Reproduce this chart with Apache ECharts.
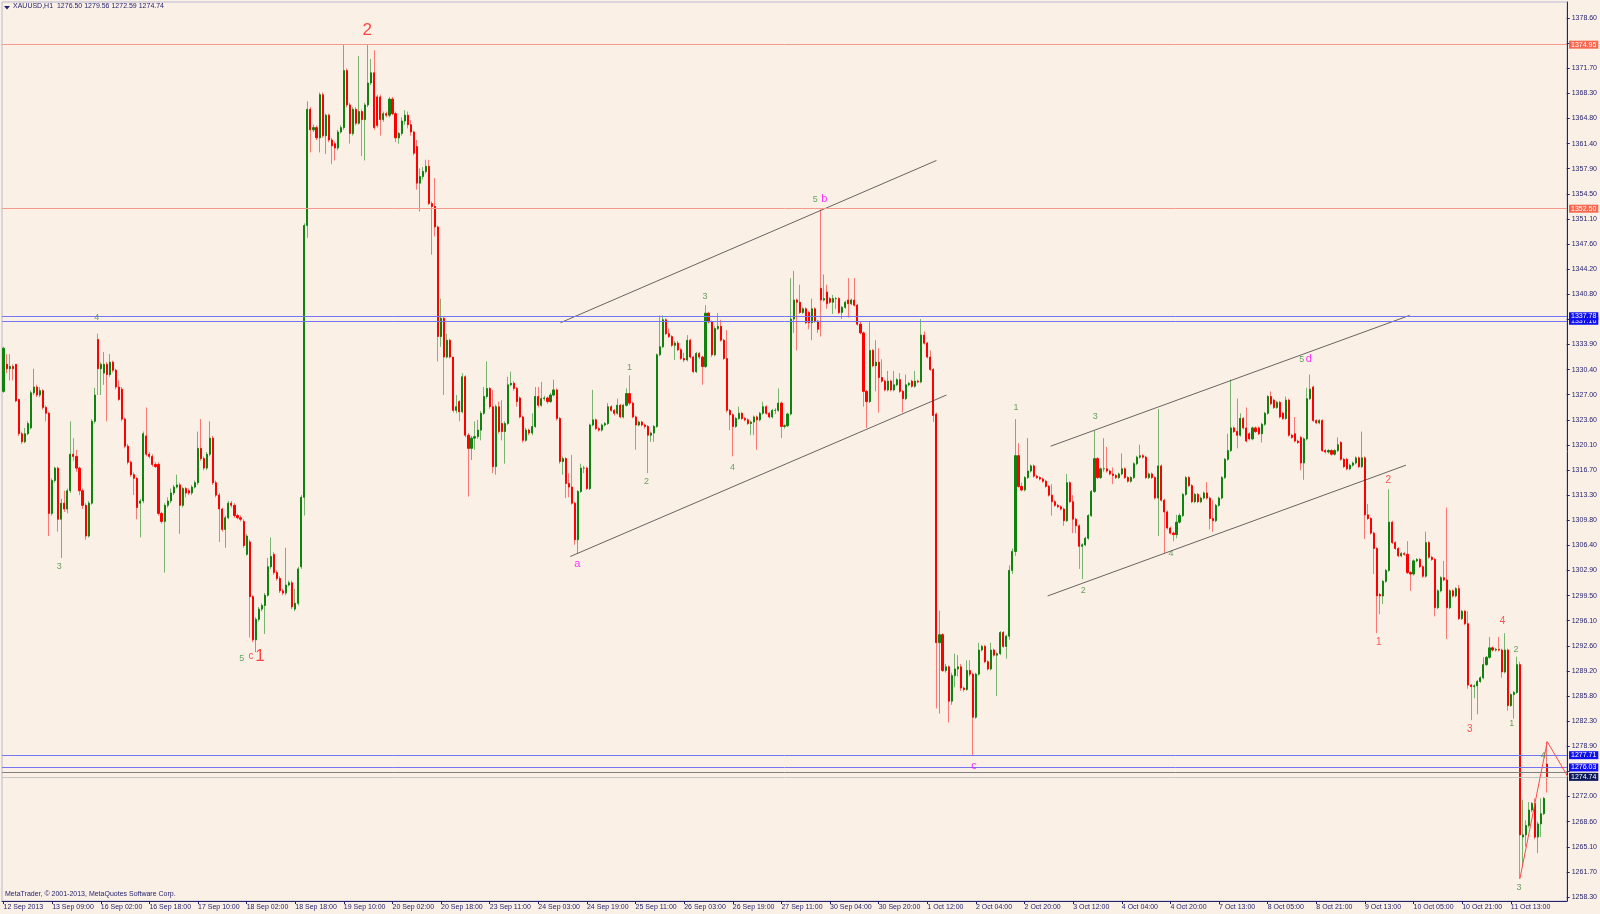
<!DOCTYPE html>
<html><head><meta charset="utf-8">
<script src="https://cdn.jsdelivr.net/npm/echarts/dist/echarts.min.js"></script>
<style>html,body{margin:0;padding:0;background:#fbf0e6;}#chart{width:1600px;height:914px;}</style>
</head><body><div id="chart"></div>
<script>
// ---------------- DATA ----------------
const symbolName = 'XAUUSD,H1';
const lastBarOHLC = ['1276.50', '1279.56', '1272.59', '1274.74'];
const copyright = 'MetaTrader, \u00a9 2001-2013, MetaQuotes Software Corp.';

const xTickLabels = ['12 Sep 2013','13 Sep 09:00','16 Sep 02:00','16 Sep 18:00','17 Sep 10:00','18 Sep 02:00','18 Sep 18:00','19 Sep 10:00','20 Sep 02:00','20 Sep 18:00','23 Sep 11:00','24 Sep 03:00','24 Sep 19:00','25 Sep 11:00','26 Sep 03:00','26 Sep 19:00','27 Sep 11:00','30 Sep 04:00','30 Sep 20:00','1 Oct 12:00','2 Oct 04:00','2 Oct 20:00','3 Oct 12:00','4 Oct 04:00','4 Oct 20:00','7 Oct 13:00','8 Oct 05:00','8 Oct 21:00','9 Oct 13:00','10 Oct 05:00','10 Oct 21:00','11 Oct 13:00'];

// price scale ticks, bottom to top ('' = tick hidden under a price label)
const yTickLabels = ['1258.30','1261.70','1265.10','1268.60','1272.00','','1278.90','1282.30','1285.80','1289.20','1292.60','1296.10','1299.50','1302.90','1306.40','1309.80','1313.30','1316.70','1320.10','1323.60','1327.00','1330.40','1333.90','','1340.80','1344.20','1347.60','1351.10','1354.50','1357.90','1361.40','1364.80','1368.30','1371.70','','1378.60'];

// hourly candles: [open, close, low, high]
const candles = [
[1327.5,1333.4,1327.3,1333.6],[1331.2,1330.6,1330.0,1332.6],[1330.6,1330.9,1329.0,1332.6],[1330.9,1330.6,1329.0,1331.2],[1331.2,1326.2,1326.0,1331.2],
[1326.4,1321.7,1321.4,1326.4],[1321.7,1320.6,1320.3,1322.0],[1320.6,1321.7,1320.4,1322.5],[1321.7,1323.1,1321.5,1323.4],[1322.5,1327.3,1322.3,1327.6],
[1327.3,1328.1,1327.0,1330.6],[1328.1,1327.0,1326.7,1328.4],[1327.0,1327.6,1326.7,1328.1],[1327.6,1325.3,1325.0,1327.8],[1325.3,1324.5,1323.4,1325.6],
[1324.5,1310.8,1307.7,1324.7],[1310.8,1315.3,1310.5,1315.6],[1315.3,1317.0,1315.0,1317.2],[1317.0,1310.0,1308.3,1317.2],[1310.0,1312.2,1304.7,1312.8],
[1312.2,1311.4,1311.0,1313.9],[1311.4,1313.9,1310.8,1314.2],[1313.9,1318.9,1313.6,1323.4],[1318.9,1318.6,1318.0,1321.1],[1318.6,1317.0,1316.5,1319.5],
[1317.0,1313.9,1313.3,1317.2],[1313.9,1311.9,1311.4,1314.2],[1311.9,1307.7,1307.2,1312.2],[1307.7,1312.2,1307.5,1312.5],[1312.2,1323.4,1312.0,1323.7],
[1323.4,1327.0,1323.1,1328.0],[1334.6,1330.6,1327.0,1335.4],[1330.6,1331.2,1327.0,1331.5],[1330.0,1331.2,1328.4,1332.9],[1331.2,1329.8,1323.4,1331.5],
[1329.8,1331.5,1329.5,1332.6],[1331.5,1330.4,1330.1,1331.7],[1330.4,1328.1,1327.8,1330.6],[1328.1,1326.4,1326.2,1329.0],[1327.8,1323.7,1323.4,1328.1],
[1323.7,1320.0,1319.7,1323.9],[1320.0,1317.8,1317.5,1320.3],[1317.8,1316.1,1315.8,1318.0],[1316.1,1315.6,1313.3,1316.4],[1315.6,1311.6,1310.0,1315.8],
[1312.2,1312.5,1307.5,1312.8],[1312.5,1321.7,1312.2,1322.0],[1321.4,1318.9,1318.6,1325.3],[1318.9,1318.6,1318.3,1319.2],[1318.6,1317.5,1317.2,1318.9],
[1317.5,1317.2,1317.0,1317.8],[1317.5,1310.8,1310.5,1317.8],[1310.8,1309.7,1309.4,1311.0],[1309.7,1311.9,1302.7,1312.2],[1311.9,1312.5,1311.6,1313.0],
[1312.5,1313.6,1312.2,1314.2],[1313.6,1314.4,1313.3,1314.7],[1314.4,1314.7,1314.2,1316.1],[1314.7,1311.9,1308.0,1315.0],[1311.9,1314.2,1311.6,1314.4],
[1314.2,1313.6,1313.0,1314.4],[1313.9,1313.6,1313.3,1314.2],[1313.6,1314.4,1313.3,1314.7],[1314.4,1315.0,1314.2,1315.3],[1315.0,1319.7,1314.7,1322.0],
[1319.7,1318.3,1318.0,1323.7],[1318.3,1317.0,1316.7,1318.6],[1317.0,1318.9,1316.7,1319.2],[1318.9,1321.1,1318.6,1323.4],[1321.1,1315.0,1314.7,1321.4],
[1315.0,1313.3,1313.0,1315.3],[1313.3,1311.4,1306.9,1313.6],[1311.4,1308.6,1308.3,1311.6],[1308.6,1310.2,1306.1,1310.5],[1310.2,1312.2,1310.0,1312.5],
[1312.2,1311.9,1311.6,1312.5],[1311.9,1310.5,1310.2,1312.2],[1310.5,1310.2,1310.0,1310.8],[1310.2,1310.0,1309.7,1310.5],[1309.7,1306.4,1306.1,1310.0],
[1305.2,1307.7,1305.0,1308.0],[1306.9,1299.4,1293.8,1307.2],[1299.4,1293.5,1293.2,1299.6],[1293.5,1296.3,1291.8,1296.6],[1296.3,1297.7,1296.0,1298.0],
[1297.7,1298.2,1297.4,1298.5],[1298.2,1299.6,1294.3,1299.9],[1299.6,1303.5,1299.4,1304.7],[1303.5,1304.9,1303.2,1307.5],[1305.2,1302.7,1302.4,1305.5],
[1302.7,1301.9,1301.6,1303.0],[1301.9,1300.2,1299.9,1302.2],[1300.2,1299.9,1299.6,1300.5],[1299.9,1301.0,1299.6,1306.1],[1301.0,1301.3,1300.8,1301.6],
[1301.3,1298.0,1297.7,1301.6],[1297.7,1298.5,1297.4,1300.5],[1298.5,1303.2,1298.2,1303.5],[1303.5,1313.0,1303.2,1313.3],[1313.0,1350.2,1310.5,1350.5],
[1350.2,1366.1,1348.5,1367.2],[1366.1,1363.3,1360.2,1366.4],[1363.3,1363.6,1363.0,1364.0],[1363.6,1362.2,1361.9,1363.9],[1362.2,1368.1,1360.2,1368.4],
[1368.1,1362.5,1362.2,1368.4],[1362.5,1365.3,1360.0,1365.5],[1365.3,1361.9,1361.6,1365.5],[1361.9,1361.1,1358.6,1362.2],[1361.4,1360.8,1359.1,1361.7],
[1360.8,1363.0,1360.5,1363.3],[1363.0,1363.6,1362.8,1363.9],[1363.6,1371.4,1363.3,1375.0],[1371.4,1366.7,1366.4,1371.7],[1366.7,1362.8,1361.4,1367.0],
[1362.8,1366.1,1362.5,1366.4],[1366.1,1364.2,1363.9,1366.4],[1364.2,1365.8,1364.0,1373.4],[1365.8,1364.7,1359.7,1366.1],[1364.7,1366.7,1359.1,1367.0],
[1366.7,1369.7,1366.4,1375.0],[1369.7,1371.1,1369.4,1373.0],[1371.1,1363.6,1363.3,1374.2],[1367.8,1363.9,1363.6,1368.1],[1367.8,1364.7,1362.5,1368.1],
[1364.7,1365.5,1364.4,1365.8],[1365.5,1365.3,1365.0,1365.8],[1365.3,1367.5,1365.0,1367.8],[1367.5,1365.5,1365.3,1367.8],[1365.5,1362.2,1361.6,1365.8],
[1362.2,1362.8,1361.4,1363.0],[1362.8,1364.5,1362.5,1365.0],[1364.5,1365.3,1364.0,1366.0],[1365.3,1364.0,1363.5,1365.8],[1364.0,1363.0,1362.5,1364.6],
[1363.0,1360.1,1359.8,1363.2],[1361.0,1356.0,1355.1,1361.9],[1356.0,1356.9,1352.1,1358.0],[1356.9,1357.6,1356.5,1358.2],[1357.6,1358.3,1357.3,1359.2],
[1358.3,1353.2,1353.0,1359.2],[1353.2,1352.8,1346.2,1353.5],[1352.8,1350.0,1348.7,1356.7],[1350.0,1335.0,1331.6,1350.2],[1335.0,1337.5,1333.6,1340.2],
[1337.5,1332.2,1327.0,1337.7],[1332.2,1334.5,1332.0,1335.4],[1334.5,1332.2,1332.0,1334.7],[1332.2,1324.9,1324.6,1330.0],[1324.9,1325.4,1324.5,1327.0],
[1326.1,1324.7,1323.4,1326.3],[1324.7,1329.5,1324.5,1330.0],[1329.5,1321.5,1321.2,1329.7],[1321.5,1319.7,1313.1,1321.8],[1319.7,1321.1,1318.1,1321.4],
[1321.1,1321.3,1319.5,1323.4],[1321.3,1322.2,1321.0,1323.6],[1322.2,1324.5,1320.8,1324.8],[1324.5,1326.8,1324.3,1328.1],[1326.8,1327.9,1326.5,1331.6],
[1327.9,1325.4,1325.1,1328.1],[1325.4,1317.2,1316.3,1327.7],[1317.2,1325.4,1316.1,1325.7],[1325.4,1322.0,1321.7,1326.1],[1323.1,1322.0,1320.8,1326.3],
[1322.0,1323.1,1317.6,1323.4],[1323.1,1328.4,1322.9,1329.5],[1328.4,1328.6,1328.2,1330.2],[1328.6,1327.9,1327.6,1328.9],[1327.9,1326.1,1325.4,1328.1],
[1326.6,1324.0,1323.8,1326.8],[1324.0,1320.8,1320.5,1324.2],[1320.8,1322.2,1320.6,1322.5],[1322.2,1321.8,1321.5,1322.4],[1321.8,1322.7,1321.5,1324.5],
[1322.7,1326.8,1322.5,1328.1],[1326.8,1325.6,1325.3,1328.1],[1325.6,1326.5,1325.4,1328.8],[1326.5,1326.6,1326.2,1326.9],[1326.6,1326.1,1325.8,1326.8],
[1326.1,1327.0,1325.9,1327.3],[1327.0,1327.7,1326.8,1329.1],[1327.7,1323.8,1323.5,1327.9],[1323.8,1317.9,1317.6,1324.0],[1317.9,1318.3,1316.1,1318.6],
[1318.3,1314.9,1312.9,1318.5],[1314.9,1314.4,1313.0,1316.3],[1314.4,1312.2,1312.0,1318.8],[1312.2,1307.2,1306.5,1312.4],[1307.2,1313.8,1305.3,1314.0],
[1313.8,1317.0,1313.6,1317.6],[1317.0,1317.0,1316.3,1317.3],[1317.0,1314.2,1314.0,1317.2],[1314.2,1322.9,1314.0,1323.1],[1322.9,1323.6,1322.7,1327.7],
[1323.6,1322.4,1322.2,1323.8],[1322.4,1322.2,1322.0,1322.6],[1322.2,1322.9,1322.0,1323.1],[1322.9,1323.1,1322.7,1323.3],[1323.1,1325.4,1322.9,1325.9],
[1325.4,1324.9,1324.7,1325.6],[1324.9,1324.5,1324.2,1325.1],[1324.5,1325.6,1324.3,1326.5],[1325.6,1324.0,1323.8,1325.8],[1324.0,1325.6,1323.8,1325.8],
[1325.6,1327.2,1325.4,1327.9],[1327.2,1325.9,1325.6,1329.7],[1325.9,1324.0,1323.8,1326.1],[1324.0,1322.9,1319.5,1324.2],[1322.9,1323.3,1322.7,1323.5],
[1323.3,1322.9,1322.7,1323.5],[1322.9,1322.7,1322.4,1323.1],[1322.7,1321.5,1316.3,1322.9],[1321.5,1321.8,1320.6,1322.0],[1321.8,1322.7,1320.6,1322.9],
[1322.7,1332.5,1322.5,1332.7],[1332.5,1333.6,1332.3,1337.9],[1333.6,1337.3,1333.4,1337.9],[1337.3,1335.4,1335.2,1337.5],[1335.4,1335.0,1334.8,1336.1],
[1335.0,1333.8,1333.6,1335.2],[1333.8,1334.1,1331.8,1334.4],[1334.1,1333.2,1333.0,1334.4],[1333.2,1332.0,1331.8,1333.4],[1332.0,1331.8,1331.5,1332.8],
[1331.8,1334.5,1331.6,1335.2],[1334.5,1332.2,1332.0,1334.7],[1332.2,1330.2,1330.0,1332.4],[1330.2,1332.7,1330.0,1332.9],[1332.7,1332.2,1331.9,1332.9],
[1332.2,1330.9,1328.4,1332.4],[1330.9,1338.2,1330.7,1339.3],[1338.2,1337.0,1336.8,1338.4],[1337.0,1332.5,1332.2,1337.2],[1332.5,1336.1,1332.3,1336.4],
[1336.1,1336.4,1335.9,1338.2],[1336.4,1334.5,1334.3,1337.3],[1334.5,1332.0,1331.8,1334.7],[1332.0,1324.9,1324.6,1335.9],[1324.9,1324.3,1322.2,1325.1],
[1324.3,1322.7,1318.6,1324.5],[1322.7,1323.8,1322.5,1324.0],[1323.8,1324.5,1323.6,1325.4],[1324.5,1323.8,1323.6,1324.7],[1323.8,1323.6,1323.4,1324.0],
[1323.6,1323.1,1322.9,1323.8],[1323.1,1323.3,1321.5,1323.5],[1323.3,1324.0,1321.5,1324.2],[1324.0,1323.6,1319.5,1324.2],[1323.6,1324.5,1323.4,1324.7],
[1324.5,1325.4,1324.3,1326.1],[1325.4,1324.5,1324.3,1325.6],[1324.5,1324.0,1323.8,1324.7],[1324.0,1324.9,1323.8,1325.1],[1324.9,1324.9,1324.4,1325.2],
[1324.9,1325.9,1324.7,1327.9],[1325.9,1322.7,1321.1,1326.1],[1322.7,1322.8,1322.4,1323.0],[1322.8,1324.4,1322.6,1324.6],[1324.4,1337.4,1324.2,1343.0],
[1337.4,1340.0,1335.5,1344.0],[1340.0,1339.7,1333.1,1340.2],[1339.7,1338.3,1338.1,1342.1],[1338.3,1338.8,1338.1,1339.0],[1338.8,1336.9,1336.7,1339.0],
[1338.3,1336.9,1336.0,1338.5],[1336.9,1338.8,1334.5,1340.2],[1338.8,1337.1,1336.9,1339.0],[1337.1,1336.0,1335.5,1337.3],[1341.6,1340.0,1335.0,1352.4],
[1340.0,1340.2,1339.8,1343.5],[1341.1,1339.5,1338.8,1342.1],[1340.2,1339.7,1339.5,1340.4],[1339.7,1340.2,1338.1,1340.7],[1340.2,1340.2,1338.8,1340.4],
[1340.2,1338.3,1338.1,1340.4],[1338.3,1339.0,1337.4,1339.2],[1339.0,1339.7,1338.8,1339.9],[1340.0,1339.5,1337.6,1343.0],[1339.5,1340.0,1339.3,1340.2],
[1340.0,1339.3,1339.1,1343.0],[1339.3,1336.7,1336.5,1339.5],[1336.7,1335.5,1335.3,1337.1],[1335.5,1327.5,1325.4,1335.7],[1327.5,1326.1,1322.5,1327.7],
[1326.1,1333.1,1325.9,1337.1],[1333.1,1331.0,1330.8,1333.3],[1331.0,1331.5,1327.5,1334.5],[1331.5,1329.4,1324.6,1333.4],[1329.4,1328.9,1328.7,1331.9],
[1328.9,1327.7,1327.5,1329.1],[1327.7,1328.9,1327.5,1330.3],[1328.9,1327.7,1327.5,1329.1],[1327.7,1328.4,1327.5,1330.3],[1328.4,1329.1,1328.2,1329.3],
[1329.1,1327.5,1327.3,1330.0],[1327.5,1326.5,1324.6,1327.7],[1326.5,1328.4,1326.3,1329.8],[1328.4,1328.6,1328.2,1328.8],[1328.9,1328.2,1328.0,1329.1],
[1328.2,1328.9,1328.0,1330.3],[1328.9,1328.8,1328.6,1329.1],[1328.8,1335.2,1328.6,1337.4],[1335.2,1334.1,1333.9,1335.7],[1334.1,1332.2,1332.0,1334.3],
[1332.2,1330.5,1330.3,1333.1],[1330.5,1324.2,1323.3,1330.7],[1324.4,1293.1,1284.1,1324.6],[1293.1,1294.2,1283.4,1297.5],[1294.2,1289.3,1289.1,1294.4],
[1289.3,1289.8,1289.0,1290.2],[1289.8,1285.1,1282.2,1290.0],[1285.1,1288.6,1284.6,1289.0],[1288.6,1289.5,1287.0,1291.6],[1289.5,1289.8,1288.5,1291.4],
[1289.8,1286.9,1286.5,1290.2],[1286.9,1286.7,1286.4,1287.1],[1286.7,1289.3,1286.5,1290.7],[1289.3,1288.8,1288.5,1290.7],[1288.8,1282.9,1277.7,1289.0],
[1282.9,1288.8,1282.7,1289.0],[1288.8,1292.1,1288.6,1293.1],[1292.1,1292.6,1291.9,1292.8],[1292.6,1290.5,1290.3,1292.8],[1290.5,1289.5,1289.3,1290.7],
[1289.5,1292.1,1289.3,1293.1],[1292.1,1291.4,1291.2,1292.3],[1291.4,1291.6,1285.8,1291.8],[1291.6,1294.5,1291.4,1294.7],[1294.5,1292.6,1292.4,1294.7],
[1292.6,1294.0,1290.9,1294.2],[1294.0,1303.0,1293.5,1303.7],[1303.0,1305.6,1302.5,1306.0],[1305.6,1318.7,1305.0,1323.7],[1318.7,1314.5,1314.3,1320.4],
[1314.5,1314.0,1313.8,1315.0],[1314.0,1315.7,1313.8,1315.9],[1315.7,1316.6,1315.5,1321.1],[1316.6,1317.3,1316.4,1317.5],[1317.3,1315.9,1315.7,1317.5],
[1315.9,1315.7,1315.5,1316.1],[1315.7,1315.5,1315.3,1315.9],[1315.5,1315.2,1315.0,1315.7],[1315.2,1314.5,1314.3,1315.4],[1314.5,1313.3,1313.1,1314.7],
[1313.3,1312.4,1310.5,1314.8],[1312.4,1311.9,1311.7,1312.6],[1311.9,1311.7,1311.5,1312.1],[1311.7,1311.4,1311.2,1311.9],[1311.4,1309.8,1309.1,1311.6],
[1309.8,1315.0,1309.6,1316.2],[1315.0,1312.4,1312.2,1315.2],[1312.4,1310.0,1308.1,1313.3],[1310.0,1309.1,1308.1,1310.2],[1309.1,1306.3,1303.2,1309.3],
[1306.3,1306.5,1301.8,1306.7],[1306.5,1307.4,1306.3,1307.6],[1307.4,1310.5,1307.2,1310.7],[1310.5,1313.8,1310.3,1314.0],[1313.8,1318.3,1313.6,1322.1],
[1318.3,1315.7,1315.5,1318.5],[1315.7,1316.9,1315.5,1317.1],[1316.9,1316.9,1316.5,1321.1],[1316.9,1316.6,1316.4,1319.9],[1316.6,1316.2,1316.0,1316.8],
[1316.2,1316.0,1314.8,1317.1],[1316.0,1315.7,1315.5,1316.2],[1315.7,1316.2,1315.5,1316.4],[1316.2,1316.9,1316.0,1319.0],[1316.9,1315.7,1315.5,1317.1],
[1315.7,1315.2,1315.0,1315.9],[1315.2,1315.7,1315.0,1315.9],[1315.7,1317.6,1315.5,1317.8],[1317.6,1318.5,1317.4,1318.7],[1318.5,1318.7,1318.3,1320.2],
[1318.7,1318.5,1318.3,1318.9],[1318.5,1315.7,1315.5,1318.7],[1315.7,1316.2,1315.5,1316.4],[1316.2,1315.7,1315.5,1316.4],[1315.7,1312.9,1312.7,1315.9],
[1312.9,1317.3,1307.7,1325.1],[1317.3,1312.6,1312.4,1317.5],[1312.6,1311.0,1305.3,1312.8],[1311.0,1308.8,1308.6,1311.2],[1308.8,1308.1,1307.9,1309.0],
[1308.1,1307.9,1307.0,1308.3],[1307.9,1309.6,1307.4,1310.6],[1309.6,1310.5,1309.4,1310.8],[1310.5,1313.4,1310.3,1313.6],[1313.4,1315.7,1313.2,1315.9],
[1315.7,1314.6,1314.4,1315.9],[1314.6,1312.4,1312.2,1314.8],[1312.4,1313.4,1312.2,1313.6],[1313.4,1312.4,1312.2,1313.6],[1312.4,1312.9,1312.2,1313.1],
[1312.9,1313.6,1312.7,1313.8],[1313.6,1312.9,1312.7,1315.1],[1312.9,1310.1,1308.6,1313.1],[1310.1,1309.8,1308.3,1312.6],[1309.8,1311.9,1309.6,1312.1],
[1311.9,1312.9,1311.7,1313.1],[1312.9,1315.7,1312.7,1315.9],[1315.7,1318.2,1315.5,1318.4],[1318.2,1319.4,1318.0,1321.7],[1319.4,1322.5,1319.2,1329.1],
[1322.5,1322.0,1321.8,1322.7],[1322.0,1321.5,1319.7,1326.5],[1321.5,1323.8,1321.3,1324.5],[1323.8,1322.5,1322.3,1324.0],[1322.5,1320.7,1320.5,1325.3],
[1321.7,1321.0,1320.8,1321.9],[1321.0,1322.5,1320.8,1322.7],[1322.5,1322.0,1321.8,1322.7],[1322.5,1321.7,1321.5,1322.7],[1321.7,1323.0,1320.5,1323.2],
[1323.0,1324.5,1322.8,1324.7],[1324.5,1326.8,1324.3,1327.0],[1326.8,1325.8,1325.6,1327.5],[1326.3,1325.3,1325.1,1326.5],[1325.3,1326.0,1325.1,1326.2],
[1326.0,1324.0,1323.8,1326.2],[1324.5,1323.8,1323.6,1324.7],[1323.8,1326.3,1323.6,1326.8],[1326.3,1321.5,1321.3,1326.5],[1321.5,1321.2,1321.0,1321.7],
[1321.7,1320.7,1320.5,1324.0],[1320.7,1320.5,1320.3,1320.9],[1321.2,1317.7,1316.7,1321.4],[1317.7,1321.0,1315.4,1321.2],[1321.0,1326.5,1320.8,1328.0],
[1326.5,1327.8,1326.3,1329.8],[1328.1,1323.5,1323.3,1328.3],[1323.5,1323.2,1323.0,1323.7],[1323.2,1323.5,1323.0,1323.7],[1323.5,1319.4,1319.2,1323.7],
[1319.4,1319.2,1319.0,1319.6],[1319.2,1319.4,1319.0,1319.6],[1319.4,1318.9,1318.7,1319.6],[1318.9,1319.4,1318.7,1319.6],[1319.4,1320.2,1319.2,1321.2],
[1320.5,1318.2,1318.0,1320.7],[1318.2,1317.2,1317.0,1318.4],[1318.2,1316.9,1316.7,1318.4],[1316.9,1317.4,1316.7,1317.6],[1317.4,1317.7,1317.2,1317.9],
[1317.7,1318.4,1317.5,1318.6],[1318.4,1317.2,1317.0,1318.6],[1317.2,1318.4,1317.0,1322.0],[1318.4,1310.6,1307.3,1318.6],[1310.6,1310.1,1309.9,1312.1],
[1310.1,1308.1,1307.9,1310.3],[1308.1,1306.0,1302.5,1308.3],[1306.0,1299.5,1294.4,1306.2],[1299.7,1299.5,1297.0,1299.9],[1299.5,1301.5,1298.4,1301.7],
[1301.5,1303.0,1301.3,1303.2],[1303.0,1309.6,1302.8,1314.1],[1309.6,1306.8,1306.6,1309.8],[1306.8,1306.0,1305.8,1307.0],[1306.0,1305.0,1304.8,1306.2],
[1305.0,1305.3,1304.8,1305.5],[1305.3,1305.2,1305.0,1305.5],[1305.2,1302.7,1302.5,1307.0],[1302.7,1302.5,1300.2,1302.9],[1302.5,1304.3,1302.3,1304.5],
[1304.3,1304.5,1304.1,1304.7],[1304.5,1303.5,1303.3,1304.7],[1303.5,1302.2,1302.0,1303.7],[1302.2,1306.8,1302.0,1308.3],[1306.8,1304.8,1304.6,1307.0],
[1304.8,1304.5,1304.3,1305.0],[1304.5,1297.9,1296.7,1304.7],[1297.9,1300.2,1297.7,1300.4],[1300.2,1302.0,1300.0,1302.2],[1302.0,1301.7,1301.5,1304.3],
[1301.7,1297.9,1293.6,1311.6],[1297.9,1300.2,1297.7,1300.4],[1300.2,1299.5,1299.3,1300.4],[1299.5,1300.5,1299.3,1300.7],[1300.5,1296.4,1296.2,1301.0],
[1296.4,1297.4,1296.2,1297.6],[1297.4,1295.7,1295.5,1297.6],[1295.7,1287.3,1286.8,1297.4],[1287.3,1287.1,1282.5,1287.5],[1287.1,1287.2,1285.5,1287.4],
[1287.2,1287.8,1283.3,1288.0],[1287.8,1288.3,1287.6,1288.5],[1288.3,1290.1,1288.1,1291.1],[1290.1,1291.1,1289.9,1291.3],[1291.1,1292.4,1290.9,1293.9],
[1292.4,1292.1,1291.9,1292.6],[1292.1,1292.2,1291.9,1292.4],[1292.2,1292.1,1291.9,1293.9],[1292.1,1289.1,1288.3,1292.3],[1289.1,1292.1,1288.9,1294.4],
[1292.1,1284.5,1283.8,1292.3],[1284.5,1286.0,1284.3,1286.2],[1286.0,1286.3,1282.7,1286.5],[1286.3,1290.1,1286.1,1291.2],[1290.1,1266.8,1260.8,1290.5],
[1266.5,1266.8,1262.4,1271.6],[1266.8,1268.1,1265.2,1268.8],[1268.1,1270.2,1267.8,1271.3],[1270.2,1271.1,1269.9,1271.3],[1271.1,1266.5,1266.2,1271.8],
[1266.5,1268.3,1264.3,1268.6],[1268.3,1269.7,1266.5,1271.8],[1269.7,1271.8,1269.5,1272.0],[1276.50,1274.74,1272.59,1279.56]
];

// horizontal levels
const levels      = [1374.95, 1352.50, 1337.16, 1337.78, 1277.71, 1276.03, 1275.31, 1274.74];
const levelLabels = ['1374.95','1352.50','1337.16','1337.78','1277.71','1276.03','','1274.74'];
const levelKinds  = ['res','res','sup','sup','sup','sup','ask','bid'];

// trend channels: [[bar, price],[bar, price]]
const trendLines = [
  [[183.3, 1336.9], [307.0, 1359.1]],
  [[186.5, 1304.9], [310.3, 1327.0]],
  [[344.6, 1320.0], [462.7, 1337.9]],
  [[343.6, 1299.5], [461.5, 1317.4]]
];
// zigzag leg
const zigzag = [[499, 1260.8], [508, 1279.56], [518, 1272.5]];

// wave labels: [bar, price, text, class]
const notes = [
  [30.7,1337.6,'4','g'],[18.3,1303.5,'3','g'],[78.4,1291.0,'5','g'],[81.4,1291.2,'c','r'],[84.4,1291.2,'1','R'],
  [119.7,1376.9,'2','R'],[188.8,1303.9,'a','m'],[206.0,1330.7,'1','g'],[211.6,1315.1,'2','g'],[230.8,1340.5,'3','g'],
  [239.9,1317.1,'4','g'],[267.1,1353.8,'5','g'],[270.1,1353.8,'b','m'],[319.4,1276.2,'c','m'],[333.2,1325.3,'1','g'],
  [355.3,1300.3,'2','g'],[359.3,1324.0,'3','g'],[384.2,1305.3,'4','g'],[427.2,1331.9,'5','g'],[429.5,1331.9,'d','m'],
  [452.6,1293.1,'1','r'],[455.7,1315.4,'2','r'],[482.5,1281.3,'3','r'],[493.3,1296.0,'4','r'],[496.3,1282.0,'1','g'],
  [497.7,1292.2,'2','g'],[498.7,1259.6,'3','g'],[506.7,1277.6,'4','g']
];

// ---------------- LAYOUT / STYLE ----------------
const NSLOTS = 515, BARS_PER_LABEL = 16;
const W = 1600, H = 914;
const GL = 2, GR = 33, GT = 2, GB = 13;
const TICK_TOP = 18, TICK_BOTTOM = 897;
const FONT = 'Liberation Sans';
const C = {
  bull: '#0f820f', bear: '#ff0000',
  bullWick: 'rgba(15,130,15,0.55)', bearWick: 'rgba(255,0,0,0.5)',
  axis: '#24246e', text: '#24246e', frame: '#b8b8d0', trend: 'rgba(45,45,45,0.8)', zig: '#ff4a4a'
};
const levelStyle = {
  res: {line: '#f39a8f', box: '#f8674f'},
  sup: {line: '#7474f4', box: '#1010f0'},
  ask: {line: '#808080', box: null},
  bid: {line: '#c4c4c4', box: '#0c1a5c'}
};
const noteStyle = {
  g: {color: '#3f8f3f', size: 9},
  r: {color: '#ff2b2b', size: 10},
  R: {color: '#ff1a1a', size: 17},
  m: {color: '#ff00ff', size: 11}
};

const yLo = parseFloat(yTickLabels[0]);
const yHi = parseFloat(yTickLabels[yTickLabels.length - 1]);
const pxPer = (TICK_BOTTOM - TICK_TOP) / (yHi - yLo);
const yMax = yHi + (TICK_TOP - GT) / pxPer;
const yMin = yLo - ((H - GB) - TICK_BOTTOM) / pxPer;
const yStep = (yHi - yLo) / (yTickLabels.length - 1);

const slots = Array.from({length: NSLOTS}, (_, i) => String(i));
const wickData = candles.map(([o, c, l, h]) => [o, c, Math.min(l, o, c), Math.max(h, o, c)]);
const bodyData = candles.map(([o, c]) => [o, c, Math.min(o, c), Math.max(o, c)]);
const showX = (i) => i % BARS_PER_LABEL === 0 && i / BARS_PER_LABEL < xTickLabels.length;

const chart = echarts.init(document.getElementById('chart'), null, {renderer: 'canvas'});

const series = [
  {
    type: 'candlestick', name: 'wick', xAxisIndex: 0, yAxisIndex: 0, data: wickData,
    barWidth: 1, z: 2, silent: true, large: false,
    itemStyle: {color: 'rgba(0,0,0,0)', color0: 'rgba(0,0,0,0)', borderColor: C.bullWick, borderColor0: C.bearWick, borderColorDoji: C.bullWick, borderWidth: 1},
    markLine: {
      silent: true, symbol: ['none', 'none'], animation: false,
      label: {show: true, position: 'end', distance: 2, fontSize: 7, fontFamily: FONT, color: '#ffffff', padding: [1, 2, 0, 2]},
      data: levels.map((v, i) => {
        const st = levelStyle[levelKinds[i]];
        return {
          yAxis: v,
          lineStyle: {color: st.line, width: 1, type: 'solid'},
          label: st.box ? {show: true, formatter: levelLabels[i], backgroundColor: st.box} : {show: false}
        };
      })
    }
  },
  {
    type: 'candlestick', name: 'body', xAxisIndex: 0, yAxisIndex: 0, data: bodyData,
    barWidth: 1.6, z: 3, silent: true, large: false,
    itemStyle: {color: C.bull, color0: C.bear, borderColor: C.bull, borderColor0: C.bear, borderColorDoji: C.bull, borderWidth: 1}
  }
];
trendLines.forEach((seg) => series.push({
  type: 'line', xAxisIndex: 1, yAxisIndex: 0, data: seg, symbol: 'none', silent: true, z: 4,
  lineStyle: {color: C.trend, width: 0.9}
}));
series.push({
  type: 'line', xAxisIndex: 1, yAxisIndex: 0, data: zigzag, symbol: 'none', silent: true, z: 5,
  lineStyle: {color: C.zig, width: 1}
});
series.push({
  type: 'scatter', xAxisIndex: 1, yAxisIndex: 0, symbolSize: 1, silent: true, z: 6,
  itemStyle: {color: 'rgba(0,0,0,0)'},
  label: {show: true, position: 'inside', fontFamily: FONT},
  data: notes.map(([x, y, t, k]) => ({value: [x, y], label: {formatter: t, color: noteStyle[k].color, fontSize: noteStyle[k].size}}))
});

chart.setOption({
  animation: false,
  backgroundColor: '#fbf0e6',
  grid: [
    {left: GL, right: GR, top: GT, bottom: GB, show: true, borderColor: C.frame, borderWidth: 1, backgroundColor: 'rgba(0,0,0,0)'},
    {left: GL, right: GR, top: TICK_TOP, bottom: H - TICK_BOTTOM, show: false}
  ],
  xAxis: [
    {
      type: 'category', gridIndex: 0, data: slots, boundaryGap: true,
      axisLine: {show: true, onZero: false, lineStyle: {color: C.axis, width: 1}},
      axisTick: {show: true, alignWithLabel: true, interval: showX, length: 3, lineStyle: {color: C.axis}},
      axisLabel: {show: true, interval: showX, align: 'left', margin: 3, fontSize: 7, fontFamily: FONT, color: C.text,
        formatter: (v, i) => xTickLabels[i / BARS_PER_LABEL] || ''},
      splitLine: {show: false}
    },
    {type: 'value', gridIndex: 0, min: -0.5, max: NSLOTS - 0.5, show: false, axisLine: {onZero: false}},
    {type: 'value', gridIndex: 1, min: 0, max: 1, show: false, axisLine: {onZero: false}}
  ],
  yAxis: [
    {
      type: 'value', gridIndex: 0, position: 'right', min: yMin, max: yMax, scale: true,
      axisLine: {show: true, onZero: false, lineStyle: {color: C.axis, width: 1}},
      axisTick: {show: false}, axisLabel: {show: false}, splitLine: {show: false}
    },
    {
      type: 'value', gridIndex: 1, position: 'right', min: yLo, max: yHi, interval: yStep,
      axisLine: {show: false, onZero: false},
      axisTick: {show: true, length: 3, lineStyle: {color: C.axis}},
      axisLabel: {show: true, margin: 5, fontSize: 7, fontFamily: FONT, color: C.text,
        formatter: (v) => yTickLabels[Math.round((v - yLo) / yStep)] || ''},
      splitLine: {show: false}
    }
  ],
  graphic: [
    {type: 'polygon', shape: {points: [[4, 6], [10, 6], [7, 9.5]]}, style: {fill: C.text}, silent: true},
    {type: 'text', left: 13, top: 3, style: {text: symbolName + '  ' + lastBarOHLC.join(' '), fill: C.text, font: '7px "' + FONT + '"'}, silent: true},
    {type: 'text', left: 5, top: 891, style: {text: copyright, fill: C.text, font: '7px "' + FONT + '"'}, silent: true}
  ],
  series: series
});
</script>
</body></html>
